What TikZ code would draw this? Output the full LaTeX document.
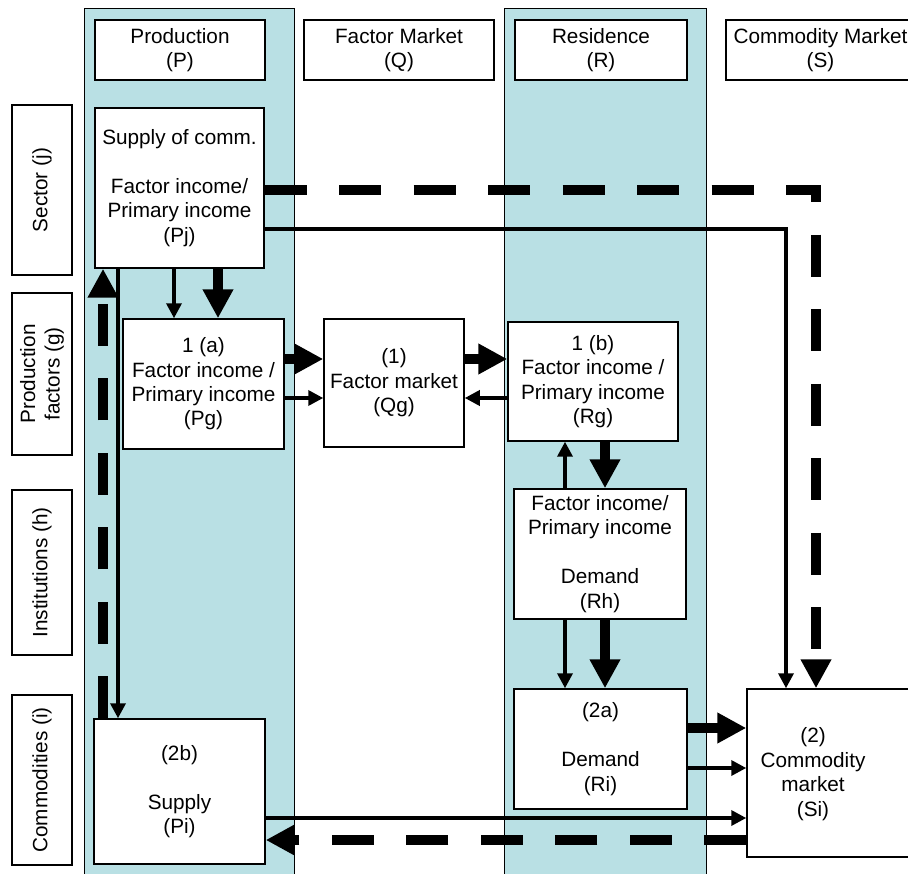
\documentclass[tikz,border=0pt]{standalone}
\usepackage{fontspec}
\setmainfont{Liberation Sans}
\usetikzlibrary{arrows.meta}
\definecolor{colblue}{RGB}{185,224,228}

% box given by its corners (x1,y1) (x2,y2) in pixel units
\newcommand\placebox[6]{%
  \node[box, minimum width={(#4-#2)*0.02cm}, minimum height={(#5-#3)*0.02cm}]
    (#1) at ({(#2+#4)/2},{(#3+#5)/2}) {#6};}
% rotated side label spanning y1..y2
\newcommand\sidelabel[4]{%
  \node[box, rotate=90, minimum width={(#3-#2)*0.02cm}, minimum height={60*0.02cm}]
    (#1) at (42,{(#2+#3)/2}) {#4};}

\begin{document}
\begin{tikzpicture}[x=0.02cm, y=-0.02cm,
  font=\fontsize{11.8}{13.9}\selectfont,
  box/.style={draw=black, line width=0.03cm, fill=white, align=center, inner sep=0pt},
  band/.style={draw=black, line width=0.02cm, fill=colblue},
  heavy/.style={line width=0.2cm, -{Triangle[length=0.58cm, width=0.58cm]}},
  light/.style={line width=0.07cm, -{Triangle[length=0.3cm, width=0.3cm]}},
  heavydash/.style={heavy, dash pattern=on 0.84cm off 0.65cm},
  lightdash/.style={}]

\useasboundingbox (0,0) rectangle (908,874);
\clip (0,0) rectangle (908,874);
\fill[white] (0,0) rectangle (908,874);

% shaded columns: production and residence
\draw[band] (84,9) rectangle (294,900);
\draw[band] (504,9) rectangle (706,900);

% column headers
\placebox{hP}{95}{20}{265}{80}{Production\\(P)}
\placebox{hQ}{304}{20}{494}{80}{Factor Market\\(Q)}
\placebox{hR}{515}{20}{687}{80}{Residence\\(R)}
\placebox{hS}{726}{20}{915}{80}{Commodity Market\\(S)}

% row labels
\sidelabel{lj}{105}{275}{Sector (j)}
\sidelabel{lg}{293}{455}{Production\\factors (g)}
\sidelabel{lh}{490}{655}{Institutions (h)}
\sidelabel{li}{695}{865}{Commodities (i)}

% accounts
\placebox{Pj}{95}{108}{264}{268}{Supply of comm.\\[13.9pt]Factor income/\\Primary income\\(Pj)}
\placebox{Pg}{123}{319}{284}{449}{1 (a)\\Factor income /\\Primary income\\(Pg)}
\placebox{Qg}{324}{319}{464}{447}{(1)\\Factor market\\(Qg)}
\placebox{Rg}{508}{322}{678}{441}{1 (b)\\Factor income /\\Primary income\\(Rg)}
\placebox{Rh}{514}{489}{686}{619}{Factor income/\\Primary income\\[13.9pt]Demand\\(Rh)}
\placebox{Ri}{514}{689}{687}{809}{(2a)\\[13.9pt]Demand\\(Ri)}
\placebox{Pi}{94}{719}{265}{864}{(2b)\\[13.9pt]Supply\\(Pi)}
\placebox{Si}{747}{689}{915}{857}{}
\node[align=center] (SiText) at (813,774) {(2)\\Commodity\\market\\(Si)};

% sector to factors
\draw[light] (Pj.south -| 174,0) -- (Pg.north -| 174,0);
\draw[heavy] (Pj.south -| 218,0) -- (Pg.north -| 218,0);

% sector and supply of commodities
\draw[light] (Pj.south -| 118,0) -- (Pi.north -| 118,0);
\draw[heavydash] (Pi.north -| 103,0) -- (Pj.south -| 103,0);

% factor market flows
\draw[heavy] (Pg.east |- 0,359) -- (Qg.west |- 0,359);
\draw[light] (Pg.east |- 0,398) -- (Qg.west |- 0,398);
\draw[heavy] (Qg.east |- 0,359) -- (Rg.west |- 0,359);
\draw[light] (Rg.west |- 0,398) -- (Qg.east |- 0,398);

% residence: factors, institutions, demand
\draw[light] (Rh.north -| 565,0) -- (Rg.south -| 565,0);
\draw[heavy] (Rg.south -| 605,0) -- (Rh.north -| 605,0);
\draw[light] (Rh.south -| 565,0) -- (Ri.north -| 565,0);
\draw[heavy] (Rh.south -| 605,0) -- (Ri.north -| 605,0);

% demand to commodity market
\draw[heavy] (Ri.east |- 0,728) -- (Si.west |- 0,728);
\draw[light] (Ri.east |- 0,768) -- (Si.west |- 0,768);

% supply and commodity market
\draw[light] (Pi.east |- 0,818) -- (Si.west |- 0,818);
\draw[heavydash] (Si.west |- 0,840) -- (Pi.east |- 0,840);

% sector to commodity market
\draw[heavydash] (Pj.east |- 0,190) -- (816,190) -- (Si.north -| 816,0);
\draw[light] (Pj.east |- 0,229) -- (786,229) -- (Si.north -| 786,0);

\end{tikzpicture}
\end{document}
